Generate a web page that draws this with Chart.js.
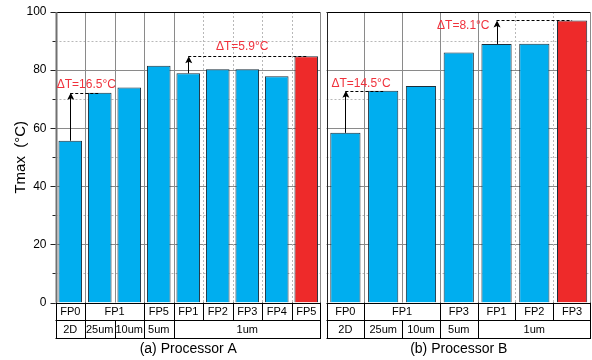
<!DOCTYPE html>
<html>
<head>
<meta charset="utf-8">
<script src="https://cdn.jsdelivr.net/npm/chart.js@4/dist/chart.umd.min.js"></script>
<style>
  body { margin: 0; background: #fff; }
  canvas { position: absolute; top: 0; }
  #chartA { left: 0; }
  #chartB { left: 323px; }
</style>
</head>
<body>
<canvas id="chartA" width="323" height="360"></canvas>
<canvas id="chartB" width="269" height="360"></canvas>
<script>
// Processor A
const floorplanA = ['FP0', 'FP1', 'FP1', 'FP5', 'FP1', 'FP2', 'FP3', 'FP4', 'FP5'];
const pitchA = ['2D', '25um', '10um', '5um', '1um', '1um', '1um', '1um', '1um'];
const tmaxA = [55.7, 72.2, 74.0, 81.5, 78.9, 80.3, 80.3, 77.9, 84.8];

// Processor B
const floorplanB = ['FP0', 'FP1', 'FP1', 'FP3', 'FP1', 'FP2', 'FP3'];
const pitchB = ['2D', '25um', '10um', '5um', '1um', '1um', '1um'];
const tmaxB = [58.4, 72.9, 74.5, 86.1, 89.0, 89.1, 97.1];

const yTicks = [0, 20, 40, 60, 80, 100];

const BLUE = '#00aeef';
const RED = '#ee2a2a';
const FONT = '"Liberation Sans", Arial, sans-serif';

Chart.defaults.font.family = FONT;
Chart.defaults.color = '#000';

// groups of equal neighbours, used for the merged table cells
function spans(labels) {
  const out = [];
  labels.forEach((l, i) => {
    const last = out[out.length - 1];
    if (last && last.text === l) last.end = i;
    else out.push({ text: l, start: i, end: i });
  });
  return out;
}

function line(ctx, x1, y1, x2, y2) {
  ctx.beginPath();
  ctx.moveTo(x1, y1);
  ctx.lineTo(x2, y2);
  ctx.stroke();
}

const panelPlugin = {
  id: 'panel',
  beforeDatasetsDraw(chart, args, opts) {
    const { ctx, chartArea: a, scales: { y } } = chart;
    const n = opts.pitch.length;
    const w = (a.right - a.left) / n;
    ctx.save();
    ctx.lineWidth = 1;
    // horizontal grid: solid every 20, dotted in between
    for (let v = 10; v < 100; v += 10) {
      const py = Math.round(y.getPixelForValue(v)) + 0.5;
      if (v % 20 === 0) { ctx.strokeStyle = '#8a8a8a'; ctx.setLineDash([]); }
      else { ctx.strokeStyle = '#b8b8b8'; ctx.setLineDash([2, 2]); }
      line(ctx, a.left, py, a.right, py);
    }
    // vertical grid: solid where the pitch changes, dotted otherwise
    for (let i = 1; i < n; i++) {
      const px = Math.round(a.left + i * w) + 0.5;
      if (opts.pitch[i] !== opts.pitch[i - 1]) { ctx.strokeStyle = '#8a8a8a'; ctx.setLineDash([]); }
      else { ctx.strokeStyle = '#b8b8b8'; ctx.setLineDash([2, 2]); }
      line(ctx, px, a.top, px, a.bottom);
    }
    ctx.restore();
  },
  afterDatasetsDraw(chart, args, opts) {
    const { ctx, chartArea: a, scales: { x, y } } = chart;
    const data = chart.data.datasets[0].data;
    ctx.save();
    // frame
    ctx.lineWidth = 1;
    ctx.strokeStyle = '#000';
    line(ctx, a.left, Math.round(a.top) + 0.5, a.right, Math.round(a.top) + 0.5);
    line(ctx, a.left, Math.round(a.bottom) + 0.5, a.right, Math.round(a.bottom) + 0.5);
    ctx.strokeStyle = opts.leftColor;
    ctx.lineWidth = opts.leftWidth;
    line(ctx, Math.round(a.left) + 0.5, a.top, Math.round(a.left) + 0.5, a.bottom);
    ctx.lineWidth = 1;
    ctx.strokeStyle = '#8a8a8a';
    line(ctx, Math.round(a.right) - 0.5, a.top, Math.round(a.right) - 0.5, a.bottom);

    // y tick marks
    if (opts.ticks) {
      ctx.strokeStyle = '#222';
      for (let v = 0; v <= 100; v += 10) {
        const py = Math.round(y.getPixelForValue(v)) + 0.5;
        line(ctx, a.left - (v % 20 === 0 ? 5 : 3), py, a.left, py);
      }
    }

    // temperature rise arrows
    opts.arrows.forEach(ar => {
      const x0 = x.getPixelForValue(ar.from);
      const x1 = x.getPixelForValue(ar.to);
      const yb = y.getPixelForValue(data[ar.from]);
      const yt = y.getPixelForValue(data[ar.to]);
      ctx.strokeStyle = '#000';
      ctx.fillStyle = '#000';
      ctx.lineWidth = 1;
      ctx.setLineDash([3, 2]);
      line(ctx, x0, Math.round(yt) + 0.5, x1, Math.round(yt) + 0.5);
      ctx.setLineDash([]);
      line(ctx, Math.round(x0) + 0.5, yb, Math.round(x0) + 0.5, yt + 5);
      ctx.beginPath();
      ctx.moveTo(x0 + 0.5, yt);
      ctx.lineTo(x0 + 4, yt + 7);
      ctx.lineTo(x0 + 0.5, yt + 5.5);
      ctx.lineTo(x0 - 3, yt + 7);
      ctx.closePath();
      ctx.fill();

      const dT = (data[ar.to] - data[ar.from]).toFixed(1);
      ctx.fillStyle = '#f0323c';
      ctx.font = '12px ' + FONT;
      ctx.textAlign = ar.align;
      ctx.textBaseline = 'alphabetic';
      ctx.fillText('ΔT=' + dT + '°C', x0 + ar.dx, yt + ar.dy);
    });
    ctx.restore();
  },
  afterDraw(chart, args, opts) {
    const { ctx, chartArea: a } = chart;
    const n = opts.pitch.length;
    const w = (a.right - a.left) / n;
    const rows = [a.bottom, a.bottom + 17.5, a.bottom + 35.5];
    const edge = i => Math.round(a.left + i * w) + (i === n ? -0.5 : 0.5);
    ctx.save();
    ctx.strokeStyle = '#000';
    ctx.lineWidth = 1;
    ctx.fillStyle = '#000';
    ctx.font = '11px ' + FONT;
    ctx.textAlign = 'center';
    ctx.textBaseline = 'middle';
    [opts.floorplan, opts.pitch].forEach((labels, r) => {
      const top = rows[r], bot = rows[r + 1];
      line(ctx, a.left, Math.round(bot) + 0.5, a.right, Math.round(bot) + 0.5);
      line(ctx, edge(n), top, edge(n), bot);
      spans(labels).forEach(s => {
        line(ctx, edge(s.start), top, edge(s.start), bot);
        const cx = a.left + (s.start + s.end + 1) * w / 2;
        ctx.fillText(s.text, cx, (top + bot) / 2 + 0.5);
      });
    });
    ctx.font = '14px ' + FONT;
    ctx.fillText(opts.caption, (a.left + a.right) / 2, rows[2] + 11);
    ctx.restore();
  }
};

function makePanel(id, floorplan, pitch, tmax, panel) {
  const n = tmax.length;
  return new Chart(document.getElementById(id), {
    type: 'bar',
    data: {
      labels: floorplan,
      datasets: [{
        data: tmax,
        backgroundColor: tmax.map((v, i) => i === n - 1 ? RED : BLUE),
        borderColor: '#1b2f3c',
        borderWidth: 1,
        barPercentage: 0.8,
        categoryPercentage: 1
      }]
    },
    options: {
      responsive: false,
      animation: false,
      layout: { padding: panel.padding },
      scales: {
        x: { display: false },
        y: {
          display: panel.yAxis,
          min: 0,
          max: 100,
          afterBuildTicks: scale => { scale.ticks = yTicks.map(v => ({ value: v })); },
          afterFit: scale => {
            scale.width = panel.yAxis ? 55.5 : 0;
            scale.paddingTop = 0;
            scale.paddingBottom = 0;
          },
          grid: { display: false, drawTicks: false },
          border: { display: false },
          ticks: { padding: 9, font: { size: 12 }, color: '#000' },
          title: {
            display: true,
            text: 'Tmax  (°C)',
            font: { size: 15 },
            color: '#000',
            padding: { top: 12, bottom: 0 }
          }
        }
      },
      plugins: {
        legend: { display: false },
        tooltip: { enabled: false },
        panel: {
          floorplan,
          pitch,
          caption: panel.caption,
          ticks: panel.yAxis,
          leftColor: panel.leftColor,
          leftWidth: panel.leftWidth,
          arrows: panel.arrows
        }
      }
    },
    plugins: [panelPlugin]
  });
}

makePanel('chartA', floorplanA, pitchA, tmaxA, {
  caption: '(a) Processor A',
  yAxis: true,
  leftColor: '#707070',
  leftWidth: 2,
  padding: { top: 12, right: 2, bottom: 57.5, left: 0 },
  arrows: [
    { from: 0, to: 1, align: 'left', dx: -13.5, dy: -4.5 },
    { from: 4, to: 8, align: 'center', dx: 54, dy: -6 }
  ]
});

makePanel('chartB', floorplanB, pitchB, tmaxB, {
  caption: '(b) Processor B',
  yAxis: false,
  leftColor: '#222',
  leftWidth: 1,
  padding: { top: 12, right: 1, bottom: 57.5, left: 3.5 },
  arrows: [
    { from: 0, to: 1, align: 'left', dx: -14, dy: -4 },
    { from: 4, to: 6, align: 'right', dx: -7, dy: 8.5 }
  ]
});
</script>
</body>
</html>
